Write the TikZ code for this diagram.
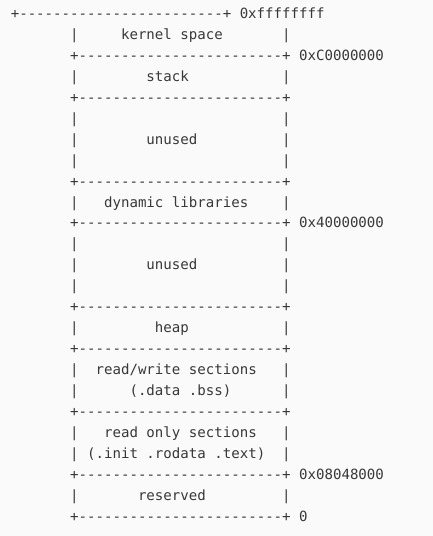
\documentclass[tikz,border=0pt]{standalone}
\usepackage{fontspec}
\newfontfamily\asciimono{DejaVu Sans Mono}
\definecolor{ink}{HTML}{383838}
\definecolor{paper}{HTML}{FAFAFA}
\newcommand\dashrun{-{}-{}-{}-{}-{}-{}-{}-{}-{}-{}-{}-{}-{}-{}-{}-{}-{}-{}-{}-{}-{}-{}-{}-{}}
\newcommand\borderline{+\dashrun+}
\tikzset{
  txt/.style={anchor=base west, inner sep=0pt, outer sep=0pt, text=ink,
    font=\asciimono\fontsize{14.09}{17}\selectfont},
}
% column / row to coordinates (1 unit = 1pt = 1 reference pixel)
\newcommand\cx[1]{{10.8+8.48*#1}}
\newcommand\ry[1]{{536-18.4-20.96*#1}}
\begin{document}
\begin{tikzpicture}[x=1pt,y=1pt]
\fill[paper] (0,0) rectangle (433,536);
\useasboundingbox (0,0) rectangle (433,536);
% top border (unindented) and its address
\node[txt] (b0) at (\cx{0},\ry{0}) {\borderline};
\node[txt] (a0) at (\cx{27},\ry{0}) {0xffffffff};
% indented borders
\foreach \r in {2,4,8,10,14,16,19,22,24}
  \node[txt] (b\r) at (\cx{7},\ry{\r}) {\borderline};
% side bars
\foreach \r in {1,3,5,6,7,9,11,12,13,15,17,18,20,21,23}{
  \node[txt] (pl\r) at (\cx{7},\ry{\r}) {|};
  \node[txt] (pr\r) at (\cx{32},\ry{\r}) {|};
}
% addresses
\node[txt] (a2) at (\cx{34},\ry{2}) {0xC0000000};
\node[txt] (a10) at (\cx{34},\ry{10}) {0x40000000};
\node[txt] (a22) at (\cx{34},\ry{22}) {0x08048000};
\node[txt] (a24) at (\cx{34},\ry{24}) {0};
% labels
\node[txt] (l1) at (\cx{13},\ry{1}) {kernel space};
\node[txt] (l3) at (\cx{16},\ry{3}) {stack};
\node[txt] (l6) at (\cx{16},\ry{6}) {unused};
\node[txt] (l9) at (\cx{11},\ry{9}) {dynamic libraries};
\node[txt] (l12) at (\cx{16},\ry{12}) {unused};
\node[txt] (l15) at (\cx{17},\ry{15}) {heap};
\node[txt] (l17) at (\cx{10},\ry{17}) {read/write sections};
\node[txt] (l18) at (\cx{14},\ry{18}) {(.data .bss)};
\node[txt] (l20) at (\cx{11},\ry{20}) {read only sections};
\node[txt] (l21) at (\cx{9},\ry{21}) {(.init .rodata .text)};
\node[txt] (l23) at (\cx{15},\ry{23}) {reserved};
\end{tikzpicture}
\end{document}
